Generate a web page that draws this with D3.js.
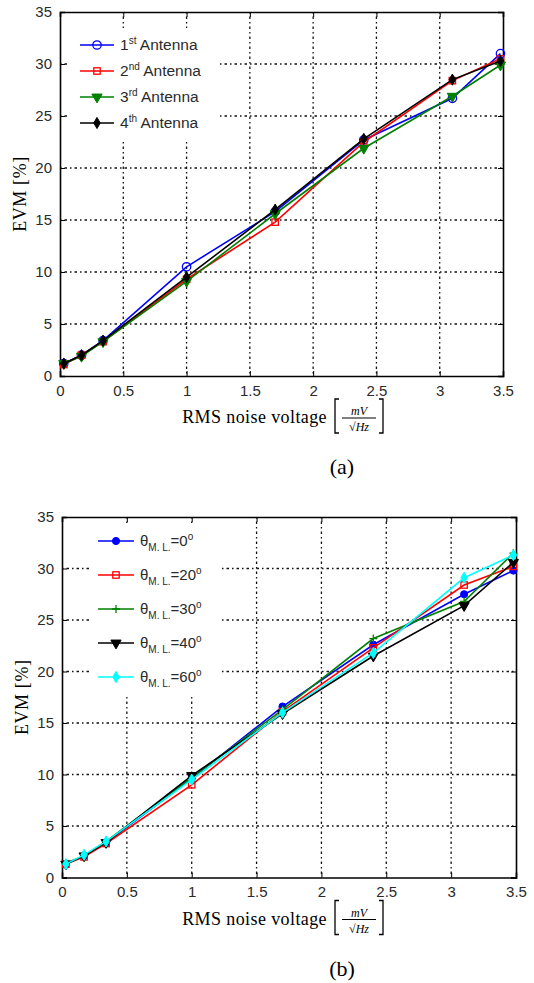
<!DOCTYPE html>
<html>
<head>
<meta charset="utf-8">
<script src="https://cdn.jsdelivr.net/npm/d3@7"></script>
<style>
  body { margin: 0; background: #fff; }
  svg { display: block; }
</style>
</head>
<body>
<svg id="chart" width="534" height="983"></svg>
<script>
const W = 534, H = 983;

// noise voltage sample points (x axis)
const noise = [0.03, 0.17, 0.34, 1, 1.7, 2.4, 3.1, 3.48];
const xTicks = [0, 0.5, 1, 1.5, 2, 2.5, 3, 3.5];
const yTicks = [0, 5, 10, 15, 20, 25, 30, 35];

// panel (a) : EVM per antenna
const ant1 = [1.2, 2.0, 3.4, 10.5, 15.8, 22.7, 26.7, 31.0];
const ant2 = [1.1, 2.0, 3.3, 9.3, 14.8, 22.5, 28.4, 30.5];
const ant3 = [1.2, 1.9, 3.3, 9.1, 15.6, 21.9, 26.9, 29.9];
const ant4 = [1.2, 2.0, 3.4, 9.5, 16.0, 22.8, 28.5, 30.3];
const antNames = ['1', '2', '3', '4'];
const antSup = ['st', 'nd', 'rd', 'th'];

// panel (b) : EVM per main-lobe angle
const th0 = [1.3, 2.1, 3.4, 9.6, 16.6, 22.6, 27.5, 29.8];
const th20 = [1.3, 2.0, 3.3, 9.0, 16.1, 22.3, 28.4, 30.2];
const th30 = [1.4, 2.1, 3.5, 9.7, 16.3, 23.2, 26.8, 31.5];
const th40 = [1.3, 2.1, 3.4, 9.9, 15.9, 21.5, 26.4, 30.6];
const th60 = [1.3, 2.2, 3.5, 9.5, 16.0, 21.8, 29.1, 31.3];
const thNames = ['0', '20', '30', '40', '60'];

const svg = d3.select('#chart');
svg.append('rect').attr('width', W).attr('height', H).attr('fill', '#fff');

const tickFont = '"Liberation Sans", Arial, sans-serif';
const serif = '"Liberation Serif", "Times New Roman", serif';

function marker(g, type, color, cx, cy) {
  if (type === 'circleOpen') {
    g.append('circle').attr('cx', cx).attr('cy', cy).attr('r', 4.2)
      .attr('fill', 'none').attr('stroke', color).attr('stroke-width', 1.3);
  } else if (type === 'circleFill') {
    g.append('circle').attr('cx', cx).attr('cy', cy).attr('r', 3.6)
      .attr('fill', color).attr('stroke', color);
  } else if (type === 'square') {
    g.append('rect').attr('x', cx - 3.2).attr('y', cy - 3.2).attr('width', 6.4).attr('height', 6.4)
      .attr('fill', 'none').attr('stroke', color).attr('stroke-width', 1.3);
  } else if (type === 'triDown') {
    g.append('path').attr('d', d3.symbol(d3.symbolTriangle, 45)())
      .attr('transform', `translate(${cx},${cy}) rotate(180)`)
      .attr('fill', color).attr('stroke', color);
  } else if (type === 'diamond') {
    g.append('path').attr('d', d3.symbol(d3.symbolDiamond, 36)())
      .attr('transform', `translate(${cx},${cy})`)
      .attr('fill', color).attr('stroke', color);
  } else if (type === 'plus') {
    g.append('path').attr('d', `M${cx - 4},${cy}H${cx + 4}M${cx},${cy - 4}V${cy + 4}`)
      .attr('stroke', color).attr('stroke-width', 1.3);
  }
}

function drawPanel(cfg) {
  const x = d3.scaleLinear().domain([0, 3.5]).range([cfg.left, cfg.right]);
  const y = d3.scaleLinear().domain([0, 35]).range([cfg.bottom, cfg.top]);
  const g = svg.append('g');

  // grid (matlab style dotted)
  const grid = g.append('g').attr('stroke', '#111').attr('stroke-width', 1.3)
    .attr('stroke-dasharray', '1.5,3,2.5,3');
  xTicks.slice(1, -1).forEach(t => {
    grid.append('line').attr('x1', x(t)).attr('x2', x(t)).attr('y1', cfg.top).attr('y2', cfg.bottom);
  });
  yTicks.slice(1, -1).forEach(t => {
    grid.append('line').attr('x1', cfg.left).attr('x2', cfg.right).attr('y1', y(t)).attr('y2', y(t));
  });

  // axes (ticks inside, box all round)
  g.append('g').attr('transform', `translate(0,${cfg.bottom})`)
    .call(d3.axisBottom(x).tickValues(xTicks).tickSize(-5).tickPadding(9).tickFormat(d3.format('')));
  g.append('g').attr('transform', `translate(${cfg.left},0)`)
    .call(d3.axisLeft(y).tickValues(yTicks).tickSize(-5).tickPadding(8));
  g.append('g').attr('transform', `translate(0,${cfg.top})`)
    .call(d3.axisTop(x).tickValues(xTicks).tickSize(-5).tickFormat(''));
  g.append('g').attr('transform', `translate(${cfg.right},0)`)
    .call(d3.axisRight(y).tickValues(yTicks).tickSize(-5).tickFormat(''));
  g.selectAll('.domain').attr('stroke', '#000').attr('stroke-width', 1.6);
  g.selectAll('.tick line').attr('stroke', '#000');
  g.selectAll('.tick text').attr('font-family', tickFont).attr('font-size', 15).attr('fill', '#2a2a2a');

  // series
  const line = d3.line().x((d, i) => x(noise[i])).y(d => y(d));
  cfg.series.forEach(s => {
    g.append('path').datum(s.values).attr('d', line)
      .attr('fill', 'none').attr('stroke', s.color).attr('stroke-width', 1.6);
    s.values.forEach((v, i) => marker(g, s.mark, s.color, x(noise[i]), y(v)));
  });

  // legend
  const lg = cfg.legend;
  g.append('rect').attr('x', lg.x0).attr('y', lg.y0).attr('width', lg.x1 - lg.x0)
    .attr('height', lg.y1 - lg.y0).attr('fill', '#fff');
  cfg.series.forEach((s, i) => {
    const ly = lg.first + i * lg.step;
    g.append('line').attr('x1', lg.lx0).attr('x2', lg.lx1).attr('y1', ly).attr('y2', ly)
      .attr('stroke', s.color).attr('stroke-width', 1.6);
    marker(g, s.mark, s.color, (lg.lx0 + lg.lx1) / 2, ly);
    lg.label(g.append('text').attr('x', lg.tx).attr('y', ly + 5)
      .attr('font-family', tickFont).attr('font-size', lg.size).attr('fill', '#2a2a2a'), i);
  });

  // y label
  g.append('text').attr('transform', `translate(${cfg.left - 34},${(cfg.top + cfg.bottom) / 2}) rotate(-90)`)
    .attr('text-anchor', 'middle').attr('font-family', serif).attr('font-size', 18)
    .attr('letter-spacing', 0.6).text('EVM [%]');

  // x label with bracketed unit fraction
  const lb = cfg.bottom + 47;
  g.append('text').attr('x', 327).attr('y', lb).attr('text-anchor', 'end')
    .attr('font-family', serif).attr('font-size', 18).attr('letter-spacing', 0.4).text('RMS noise voltage');
  const bx0 = 335, bx1 = 383, by0 = lb - 24, by1 = lb + 10;
  g.append('path').attr('d', `M${bx0 + 4},${by0}H${bx0}V${by1}H${bx0 + 4}M${bx1 - 4},${by0}H${bx1}V${by1}H${bx1 - 4}`)
    .attr('fill', 'none').attr('stroke', '#000').attr('stroke-width', 1.3);
  g.append('text').attr('x', 359).attr('y', lb - 8).attr('text-anchor', 'middle')
    .attr('font-family', serif).attr('font-style', 'italic').attr('font-size', 12).text('mV');
  g.append('line').attr('x1', 342).attr('x2', 376).attr('y1', lb - 5).attr('y2', lb - 5)
    .attr('stroke', '#000').attr('stroke-width', 1.2);
  g.append('text').attr('x', 359).attr('y', lb + 8).attr('text-anchor', 'middle')
    .attr('font-family', serif).attr('font-size', 12)
    .call(t => {
      t.append('tspan').text('\u221A');
      t.append('tspan').attr('font-style', 'italic').text('Hz');
    });

  // caption
  g.append('text').attr('x', 342).attr('y', cfg.bottom + 98).attr('text-anchor', 'middle')
    .attr('font-family', serif).attr('font-size', 22).text(cfg.caption);
}

drawPanel({
  left: 60, right: 503, top: 12, bottom: 376, caption: '(a)',
  series: [
    { values: ant1, color: '#0000ff', mark: 'circleOpen' },
    { values: ant2, color: '#ff0000', mark: 'square' },
    { values: ant3, color: '#008000', mark: 'triDown' },
    { values: ant4, color: '#000000', mark: 'diamond' }
  ],
  legend: {
    x0: 70, x1: 218, y0: 28, y1: 140, first: 45, step: 26, lx0: 80, lx1: 114, tx: 120, size: 15.5,
    label: (t, i) => {
      t.append('tspan').text(antNames[i]);
      t.append('tspan').attr('font-size', 10).attr('dy', -6).text(antSup[i]);
      t.append('tspan').attr('dy', 6).text(' Antenna');
    }
  }
});

drawPanel({
  left: 62, right: 516, top: 517, bottom: 877.5, caption: '(b)',
  series: [
    { values: th0, color: '#0000ff', mark: 'circleFill' },
    { values: th20, color: '#ff0000', mark: 'square' },
    { values: th30, color: '#008000', mark: 'plus' },
    { values: th40, color: '#000000', mark: 'triDown' },
    { values: th60, color: '#00ffff', mark: 'diamond' }
  ],
  legend: {
    x0: 92, x1: 219, y0: 523, y1: 695, first: 541, step: 34, lx0: 98, lx1: 134, tx: 140, size: 15,
    label: (t, i) => {
      t.append('tspan').text('\u03B8');
      t.append('tspan').attr('font-size', 10).attr('dy', 5).text('M. L.');
      t.append('tspan').attr('dy', -5).text('=' + thNames[i]);
      t.append('tspan').attr('font-size', 10).attr('dy', -6).text('o');
    }
  }
});
</script>
</body>
</html>
